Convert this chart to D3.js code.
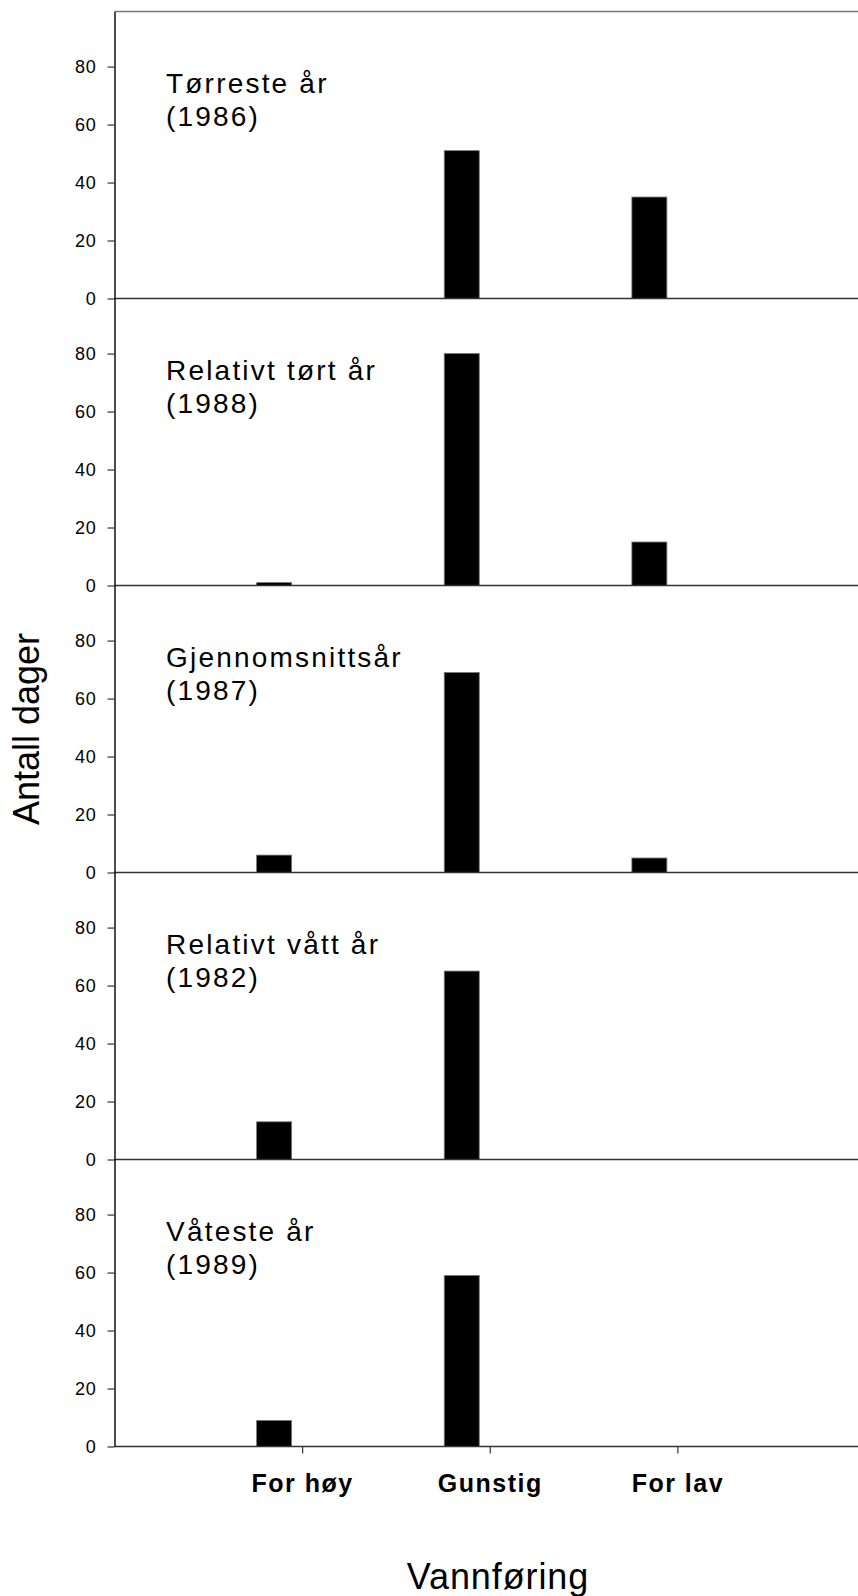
<!DOCTYPE html>
<html>
<head>
<meta charset="utf-8">
<script src="https://cdn.jsdelivr.net/npm/d3@7"></script>
<style>
  body { margin: 0; background: #fff; }
  svg { display: block; font-family: "Liberation Sans", Arial, sans-serif; }
</style>
</head>
<body>
<svg id="chart" width="858" height="1596"></svg>
<script>
// data (antall dager per vannføringsklasse)
const categories = ['For høy', 'Gunstig', 'For lav'];
const panelTitles = ['Tørreste år', 'Relativt tørt år', 'Gjennomsnittsår', 'Relativt vått år', 'Våteste år'];
const panelYears = ['(1986)', '(1988)', '(1987)', '(1982)', '(1989)'];
const forHoy = [0, 1, 6, 13, 9];
const gunstig = [51, 80, 69, 65, 59];
const forLav = [35, 15, 5, 0, 0];
const yTicks = [0, 20, 40, 60, 80];

const svg = d3.select('#chart'),
  width = +svg.attr('width'),
  height = +svg.attr('height');

const plotLeft = 114.5, plotRight = 865, plotTop = 11.5, panelH = 287;
const barW = 35, barShift = -28;

const x = d3.scalePoint()
  .domain(categories)
  .range([plotLeft, plotRight])
  .padding(1);

svg.append('rect').attr('width', width).attr('height', height).attr('fill', '#fff');

// top frame line
svg.append('line')
  .attr('x1', plotLeft).attr('x2', width)
  .attr('y1', plotTop).attr('y2', plotTop)
  .attr('stroke', '#777').attr('stroke-width', 1.5);

panelTitles.forEach(function(title, i) {
  const y0 = plotTop + i * panelH,
    y1 = y0 + panelH;

  const y = d3.scaleLinear().domain([0, 99]).range([y1, y0]);

  const g = svg.append('g');

  const vals = [forHoy[i], gunstig[i], forLav[i]];
  const rows = categories.map(function(c, j) { return {cat: c, v: vals[j]}; })
    .filter(function(d) { return d.v > 0; });

  // bars
  g.selectAll('rect.bar')
    .data(rows)
    .enter().append('rect')
    .attr('class', 'bar')
    .attr('x', function(d) { return x(d.cat) + barShift - barW / 2; })
    .attr('width', barW)
    .attr('y', function(d) { return y(d.v); })
    .attr('height', function(d) { return y(0) - y(d.v); })
    .style('fill', '#000')
    .style('stroke', '#777')
    .attr('stroke-width', 0.8);

  // baseline
  g.append('line')
    .attr('x1', plotLeft).attr('x2', width)
    .attr('y1', y(0)).attr('y2', y(0))
    .attr('stroke', '#333').attr('stroke-width', 1.6);

  // y axis
  const ax = g.append('g')
    .attr('transform', 'translate(' + plotLeft + ',0)')
    .call(d3.axisLeft(y).tickValues(yTicks).tickSize(7).tickSizeOuter(0).tickPadding(11));
  ax.select('.domain').attr('stroke', '#000').attr('stroke-width', 1.4);
  ax.selectAll('.tick line').attr('stroke', '#333').attr('stroke-width', 1.2);
  ax.selectAll('.tick text')
    .attr('fill', '#000')
    .style('font-size', '18px')
    .style('letter-spacing', '0.8px');

  // panel title
  const t = g.append('text')
    .attr('x', 166)
    .attr('y', y0 + 81)
    .style('font-size', '28px')
    .style('letter-spacing', '2.2px')
    .attr('fill', '#000');
  t.append('tspan').attr('x', 166).text(title);
  t.append('tspan').attr('x', 166).attr('dy', 33.5).text(panelYears[i]);

  if (i === panelTitles.length - 1) {
    const bx = g.append('g')
      .attr('transform', 'translate(0,' + y(0) + ')')
      .call(d3.axisBottom(x).tickSize(7).tickSizeOuter(0));
    bx.select('.domain').remove();
    bx.selectAll('.tick line').attr('stroke', '#333').attr('stroke-width', 1.2);
    bx.selectAll('.tick text')
      .attr('y', 45.4)
      .attr('dy', null)
      .attr('fill', '#000')
      .style('font-size', '25px')
      .style('font-weight', 'bold')
      .style('letter-spacing', '1.5px');
  }
});

// axis titles
svg.append('text')
  .attr('transform', 'translate(39,729) rotate(-90)')
  .attr('text-anchor', 'middle')
  .style('font-size', '36px')
  .attr('fill', '#000')
  .text('Antall dager');

svg.append('text')
  .attr('x', 498)
  .attr('y', 1589.3)
  .attr('text-anchor', 'middle')
  .style('font-size', '36px')
  .style('letter-spacing', '0.9px')
  .attr('fill', '#000')
  .text('Vannføring');
</script>
</body>
</html>
